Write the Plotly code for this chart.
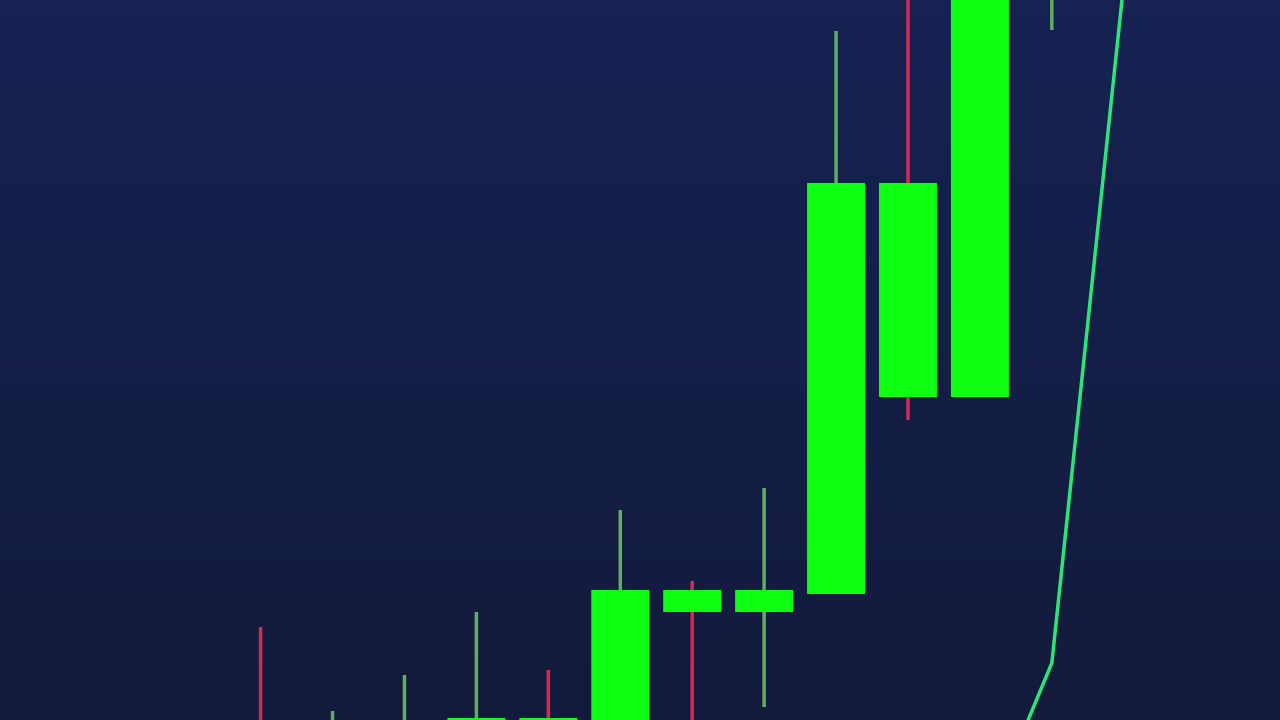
import plotly.graph_objects as go

# ---------------- data ----------------
dates = ["2024-03-01", "2024-03-02", "2024-03-03", "2024-03-04", "2024-03-05",
         "2024-03-06", "2024-03-07", "2024-03-08", "2024-03-09", "2024-03-10",
         "2024-03-11", "2024-03-12", "2024-03-13"]
open_ = [99.5, 99.0, 99.2, 99.5, 100.2, 99.7, 113.0, 110.8, 112.6, 153.7, 132.3, 178.0, 195.0]
high = [109.3, 100.9, 104.5, 110.8, 105.0, 121.0, 113.9, 123.2, 168.9, 176.0, 185.0, 192.0, 200.0]
low = [97.0, 98.5, 98.8, 98.0, 98.5, 99.0, 99.0, 101.3, 112.6, 130.0, 132.3, 169.0, 190.0]
close = [98.0, 99.8, 99.9, 100.2, 99.6, 113.0, 110.8, 113.0, 153.7, 132.3, 180.0, 190.0, 198.0]
trend = [None, None, None, None, None, None, None, None, None, None, 88.4, 105.7, 173.7]

# ---------------- styling ----------------
BODY = "#0fff12"
WICK_UP = "#5fae62"
WICK_DN = "#d42a55"
LINE = "#2be676"
TOP = (21, 34, 82)
BOTTOM = (19, 27, 59)

fig = go.Figure()

# wicks (split by direction; drawn only outside the body)
wx_up, wy_up, wx_dn, wy_dn = [], [], [], []
for d, o, h, l, c in zip(dates, open_, high, low, close):
    top_b, bot_b = max(o, c), min(o, c)
    xs = [d, d, None, d, d, None]
    ys = [top_b, h, None, l, bot_b, None]
    if c >= o:
        wx_up += xs
        wy_up += ys
    else:
        wx_dn += xs
        wy_dn += ys

fig.add_trace(go.Scatter(x=wx_up, y=wy_up, mode="lines",
                         line=dict(color=WICK_UP, width=3.5), hoverinfo="skip",
                         showlegend=False))
fig.add_trace(go.Scatter(x=wx_dn, y=wy_dn, mode="lines",
                         line=dict(color=WICK_DN, width=3.5), hoverinfo="skip",
                         showlegend=False))

# bodies
base = [min(o, c) for o, c in zip(open_, close)]
height = [abs(c - o) for o, c in zip(open_, close)]
fig.add_trace(go.Bar(x=dates, y=height, base=base, width=0.806,
                     marker=dict(color=BODY, line=dict(width=0)),
                     showlegend=False))

# trend line
fig.add_trace(go.Scatter(x=dates, y=trend, mode="lines",
                         line=dict(color=LINE, width=3.5), connectgaps=False,
                         showlegend=False))

# gradient background
N = 72
shapes = []
for k in range(N):
    t = k / (N - 1)
    r = round(TOP[0] + (BOTTOM[0] - TOP[0]) * t)
    g = round(TOP[1] + (BOTTOM[1] - TOP[1]) * t)
    b = round(TOP[2] + (BOTTOM[2] - TOP[2]) * t)
    y1 = 1 - k / N
    y0 = 1 - (k + 1) / N
    shapes.append(dict(type="rect", xref="paper", yref="paper",
                       x0=0, x1=1, y0=y0 - 0.001, y1=y1 + 0.001, layer="below",
                       line=dict(width=0), fillcolor=f"rgb({r},{g},{b})"))

fig.update_layout(
    width=1280, height=720,
    margin=dict(l=0, r=0, t=0, b=0),
    paper_bgcolor="rgb(%d,%d,%d)" % BOTTOM,
    plot_bgcolor="rgba(0,0,0,0)",
    shapes=shapes,
    showlegend=False,
    barmode="overlay",
    xaxis=dict(type="category", categoryorder="array", categoryarray=dates,
               range=[-3.623, 14.172], visible=False,
               showgrid=False, zeroline=False, fixedrange=True),
    yaxis=dict(range=[100, 172], visible=False, showgrid=False,
               zeroline=False, fixedrange=True),
)

fig.write_html("out.html", config={"displayModeBar": False},
               post_script="document.body.style.margin='0';"
                           "document.body.style.overflow='hidden';")
